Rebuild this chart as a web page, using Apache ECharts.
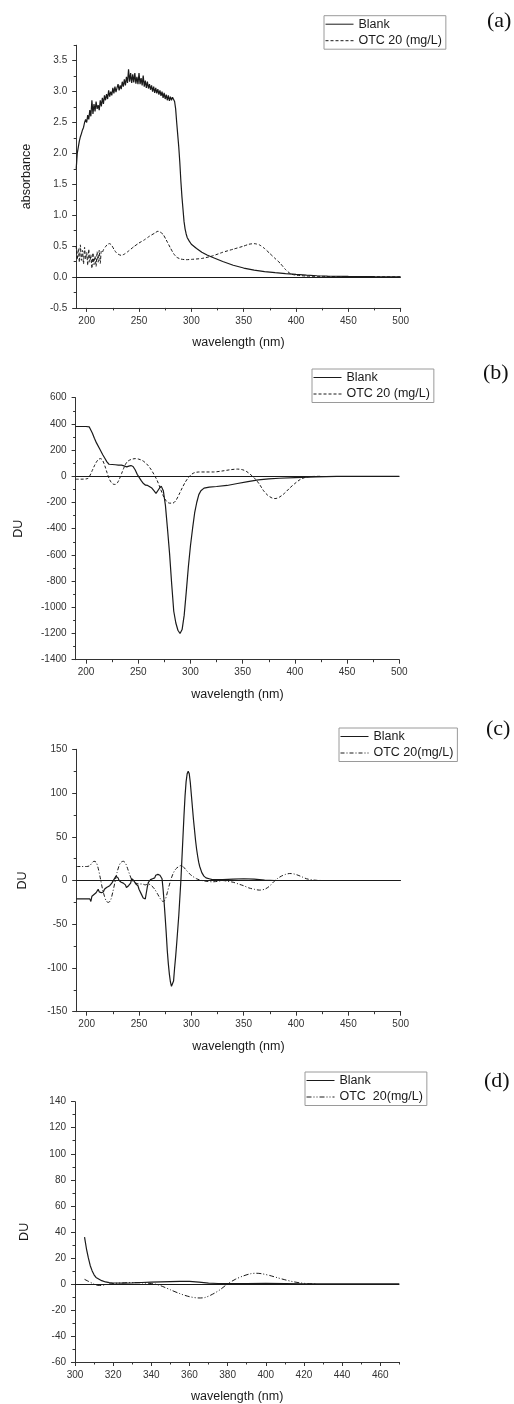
<!DOCTYPE html>
<html>
<head>
<meta charset="utf-8">
<script src="https://cdn.jsdelivr.net/npm/echarts@6/dist/echarts.min.js"></script>
<style>
  html, body { margin: 0; padding: 0; background: #fff; }
  #chart { width: 514px; height: 1404px; }
</style>
</head>
<body>
<div id="chart"></div>
<script>
// ---- Panel (a): absorbance spectra, [wavelength nm, absorbance] ----
const aBlank = [[190,1.75],[191,2.0],[192,2.1],[193,2.2],[194,2.27],[195,2.32],[196,2.38],[197,2.42],[198,2.5],[199,2.55],[200,2.5],[201,2.62],[202,2.55],[203,2.7],[204,2.6],[205,2.86],[206,2.64],[207,2.8],[208,2.68],[209,2.84],[210,2.72],[211,2.78],[212,2.7],[213,2.86],[214,2.76],[215,2.9],[216,2.8],[217,2.94],[218,2.86],[219,2.96],[220,2.88],[221,3.02],[222,2.92],[223,3.0],[224,2.94],[225,3.06],[226,2.97],[227,3.08],[228,2.99],[229,3.06],[230,3.12],[231,3.02],[232,3.1],[233,3.04],[234,3.16],[235,3.08],[236,3.2],[237,3.1],[238,3.24],[239,3.14],[240,3.36],[241,3.16],[242,3.3],[243,3.14],[244,3.28],[245,3.15],[246,3.3],[247,3.13],[248,3.24],[249,3.12],[250,3.3],[251,3.12],[252,3.22],[253,3.1],[254,3.26],[255,3.08],[256,3.18],[257,3.06],[258,3.16],[259,3.05],[260,3.12],[261,3.03],[262,3.1],[263,3.0],[264,3.08],[265,2.98],[266,3.06],[267,2.97],[268,3.04],[269,2.95],[270,3.02],[271,2.93],[272,3.0],[273,2.9],[274,2.98],[275,2.88],[276,2.95],[277,2.86],[278,2.94],[279,2.85],[280,2.92],[281,2.86],[282,2.91],[283,2.88],[284,2.84],[285,2.72],[286,2.5],[287,2.3],[288,2.1],[289,1.85],[290,1.55],[291,1.3],[292,1.1],[293,0.9],[294,0.78],[295,0.7],[296,0.64],[298,0.58],[300,0.53],[305,0.46],[310,0.4],[315,0.355],[320,0.32],[330,0.25],[340,0.19],[350,0.145],[360,0.11],[370,0.088],[380,0.07],[390,0.055],[400,0.042],[410,0.03],[420,0.02],[430,0.015],[450,0.009],[475,0.005],[500,0.003]];
const aOtc = [[190,0.5],[191,0.28],[192,0.46],[193,0.24],[194,0.52],[195,0.27],[196,0.43],[197,0.21],[198,0.48],[199,0.29],[200,0.4],[201,0.19],[202,0.45],[203,0.24],[204,0.36],[205,0.14],[206,0.39],[207,0.2],[208,0.34],[209,0.17],[210,0.41],[211,0.24],[212,0.43],[213,0.22],[214,0.42],[215,0.4],[216,0.44],[218,0.49],[220,0.53],[222,0.54],[224,0.51],[226,0.45],[228,0.4],[230,0.37],[233,0.35],[236,0.37],[240,0.42],[245,0.49],[250,0.55],[255,0.6],[260,0.66],[265,0.71],[268,0.74],[270,0.73],[273,0.69],[276,0.6],[280,0.47],[283,0.38],[286,0.32],[290,0.29],[295,0.28],[300,0.285],[310,0.3],[320,0.34],[330,0.4],[340,0.45],[350,0.5],[355,0.53],[360,0.54],[365,0.52],[370,0.46],[375,0.38],[380,0.3],[385,0.22],[390,0.12],[395,0.05],[400,0.03],[410,0.015],[425,0.01],[450,0.005],[500,0.002]];

// ---- Panel (b): first derivative, [nm, DU] ----
const bBlank = [[190,380],[200,380],[203,378],[206,330],[208,290],[210,255],[213,210],[216,165],[218,138],[220,110],[222,92],[225,90],[228,88],[231,86],[234,85],[237,78],[239,72],[241,78],[243,82],[245,75],[247,50],[249,15],[251,-10],[253,-35],[255,-55],[257,-68],[259,-70],[261,-80],[263,-90],[265,-110],[267,-130],[268,-125],[270,-95],[272,-75],[274,-110],[276,-220],[278,-400],[280,-590],[282,-820],[284,-1030],[286,-1120],[288,-1175],[290,-1200],[292,-1170],[294,-1060],[296,-880],[298,-690],[300,-530],[302,-400],[304,-280],[306,-200],[308,-140],[310,-110],[313,-90],[318,-82],[325,-78],[335,-70],[345,-55],[355,-40],[365,-28],[375,-20],[385,-15],[400,-10],[420,-4],[440,-1],[500,0]];
const bOtc = [[190,-22],[195,-22],[200,-20],[202,-15],[204,10],[206,45],[208,80],[210,110],[212,130],[214,135],[216,120],[218,80],[220,30],[222,-15],[224,-45],[226,-60],[228,-62],[230,-50],[232,-20],[234,20],[236,60],[238,95],[240,115],[243,128],[247,135],[250,132],[254,120],[258,95],[262,55],[265,15],[268,-30],[271,-90],[274,-150],[277,-190],[280,-205],[283,-205],[286,-185],[289,-140],[292,-90],[295,-45],[298,-10],[301,15],[304,28],[308,33],[315,33],[322,33],[330,40],[338,50],[345,55],[350,50],[354,35],[358,10],[362,-20],[366,-60],[370,-110],[374,-145],[378,-165],[381,-170],[385,-160],[390,-130],[395,-90],[400,-55],[405,-25],[410,-8],[415,-2],[425,0]];

// ---- Panel (c): second derivative, [nm, DU] ----
const cBlank = [[190,-21],[195,-21],[200,-21],[203,-21],[204,-24],[205,-18],[206,-20],[207,-16],[208,-17],[209,-14],[210,-16],[211,-10],[212,-13],[213,-11],[214,-14],[215,-12],[216,-13],[217,-10],[218,-11],[219,-8],[220,-9],[222,-6],[224,-3],[226,1],[228,5],[229,6],[230,3],[231,0],[232,1],[233,-2],[234,-1],[235,-3],[236,-2],[237,-5],[238,-8],[239,-10],[240,-6],[241,-8],[242,-3],[243,2],[244,4],[245,0],[246,-2],[247,-4],[248,-3],[249,-6],[250,-10],[251,-12],[252,-15],[253,-17],[254,-20],[255,-22],[256,-21],[257,-14],[258,-7],[259,-2],[260,-1],[261,1],[262,0],[263,2],[264,1],[265,3],[266,6],[267,8],[268,7],[269,8],[270,6],[271,4],[272,2],[273,-10],[274,-25],[275,-42],[276,-60],[277,-80],[278,-95],[279,-107],[280,-116],[281,-121],[282,-123],[283,-115],[284,-100],[285,-87],[286,-72],[287,-56],[288,-40],[289,-20],[290,0],[291,25],[292,50],[293,75],[294,97],[295,113],[296,122],[297,125],[298,122],[299,112],[300,98],[301,84],[302,70],[303,58],[304,46],[305,36],[306,28],[307,21],[308,16],[310,9],[312,5],[314,3],[317,2],[320,1],[330,1],[340,1.5],[350,2],[360,1.5],[370,0.5],[380,0],[500,0]];
const cOtc = [[190,16],[195,16],[200,16],[203,17],[205,20],[207,22],[209,21],[211,14],[213,3],[215,-9],[217,-18],[219,-24],[221,-25],[223,-22],[225,-13],[227,-2],[229,9],[231,17],[233,21],[235,22],[237,20],[239,14],[241,7],[243,1],[245,-2],[247,-3],[250,-4],[253,-4],[256,-5],[259,-4],[262,-6],[265,-10],[268,-16],[271,-22],[273,-24],[275,-22],[277,-14],[279,-5],[281,3],[283,9],[285,13],[288,16],[290,17],[292,16],[295,12],[298,8],[301,5],[305,2],[310,0],[315,-1],[320,-1.5],[325,-1],[330,0],[335,-1],[340,-2],[345,-4],[350,-6],[355,-8.5],[360,-10],[365,-11],[370,-10],[373,-8],[376,-5],[379,-1],[382,2],[386,5],[390,7],[394,8],[398,7.5],[402,6],[406,4],[410,2],[415,0.8],[420,0.2],[425,0]];

// ---- Panel (d): third derivative, [nm, DU] ----
const dBlank = [[305,36],[306,27],[307,20],[308,14],[309,10],[310,7],[311,5],[312,3.8],[314,2.5],[316,1.5],[318,1],[320,0.7],[325,0.6],[330,0.8],[335,1.1],[340,1.4],[345,1.6],[350,1.8],[355,2],[360,1.9],[365,1.3],[370,0.6],[375,0.3],[380,0.2],[390,0.3],[400,0.4],[410,0.2],[420,0],[470,0]];
const dOtc = [[305,3.5],[307,2],[309,0.5],[311,-0.8],[313,-1.2],[315,-1],[317,-0.3],[320,0.3],[325,0.8],[330,1],[335,0.8],[340,0.3],[343,-0.5],[346,-2],[350,-4.5],[355,-7.5],[360,-9.8],[365,-10.8],[368,-10.5],[372,-8],[376,-4.5],[380,0],[384,3.5],[388,6],[392,7.8],[395,8.2],[398,7.8],[402,6.5],[406,4.8],[410,3.2],[414,1.8],[418,0.8],[422,0.2],[426,0]];

// ---- Tick positions ----
const xTicksUV = [200,250,300,350,400,450,500];
const xMinorUV = [225,275,325,375,425,475];
const xTicksD = [300,320,340,360,380,400,420,440,460];
const xMinorD = [310,330,350,370,390,410,430,450,470];
const yTicksA = [-0.5,0,0.5,1,1.5,2,2.5,3,3.5];
const yMinorA = [-0.25,0.25,0.75,1.25,1.75,2.25,2.75,3.25,3.75];
const yTicksB = [-1400,-1200,-1000,-800,-600,-400,-200,0,200,400,600];
const yMinorB = [-1300,-1100,-900,-700,-500,-300,-100,100,300,500];
const yTicksC = [-150,-100,-50,0,50,100,150];
const yMinorC = [-125,-75,-25,25,75,125];
const yTicksD = [-60,-40,-20,0,20,40,60,80,100,120,140];
const yMinorD = [-50,-30,-10,10,30,50,70,90,110,130];

// ---- Legend / series names ----
const nameBlank = 'Blank';
const nameOtcAB = 'OTC 20 (mg/L)';
const nameOtcC = 'OTC 20(mg/L)';
const nameOtcD = 'OTC  20(mg/L)';
const panelTags = ['(a)', '(b)', '(c)', '(d)'];

const SANS = '"Liberation Sans", Arial, Helvetica, sans-serif';
const SERIF = '"Liberation Serif", "Times New Roman", serif';
const INK = '#1a1a1a';
const AXIS = '#333';

const grids = [
  { left: 76.2, top: 45.25, width: 324.5, height: 262.65 },
  { left: 75.6, top: 397.7, width: 323.7, height: 262 },
  { left: 76.2, top: 749.3, width: 324.5, height: 262.4 },
  { left: 75,   top: 1101.7, width: 324.3, height: 262.3 }
];

const panels = [
  { xr: [190, 500], yr: [-0.5, 3.75], xt: xTicksUV, xm: xMinorUV, yt: yTicksA, ym: yMinorA,
    yName: 'absorbance', yGap: 43, fmt: v => v.toFixed(1) },
  { xr: [190, 500], yr: [-1400, 600], xt: xTicksUV, xm: xMinorUV, yt: yTicksB, ym: yMinorB,
    yName: 'DU', yGap: 51, fmt: v => String(v) },
  { xr: [190, 500], yr: [-150, 150], xt: xTicksUV, xm: xMinorUV, yt: yTicksC, ym: yMinorC,
    yName: 'DU', yGap: 47, fmt: v => String(v) },
  { xr: [300, 470], yr: [-60, 140], xt: xTicksD, xm: xMinorD, yt: yTicksD, ym: yMinorD,
    yName: 'DU', yGap: 44, fmt: v => String(v) }
];

const xAxes = [], yAxes = [];
panels.forEach((p, i) => {
  xAxes.push({
    type: 'value', gridIndex: i, position: 'bottom', min: p.xr[0], max: p.xr[1],
    name: 'wavelength (nm)', nameLocation: 'middle', nameGap: 28,
    nameTextStyle: { fontFamily: SANS, fontSize: 12.5, color: INK },
    axisLine: { onZero: false, lineStyle: { color: AXIS, width: 1 } },
    axisTick: { inside: false, length: 4, customValues: p.xt, lineStyle: { color: AXIS } },
    axisLabel: { customValues: p.xt, margin: 8, fontFamily: SANS, fontSize: 10, color: '#333' },
    splitLine: { show: false }
  });
  yAxes.push({
    type: 'value', gridIndex: i, position: 'left', min: p.yr[0], max: p.yr[1],
    name: p.yName, nameLocation: 'middle', nameGap: p.yGap,
    nameTextStyle: { fontFamily: SANS, fontSize: 12.5, color: INK },
    axisLine: { onZero: false, lineStyle: { color: AXIS, width: 1 } },
    axisTick: { inside: false, length: 4, customValues: p.yt, lineStyle: { color: AXIS } },
    axisLabel: { customValues: p.yt, margin: 9, fontFamily: SANS, fontSize: 10, color: '#333', formatter: p.fmt },
    splitLine: { show: false }
  });
});
// minor tick axes overlaid on the main ones
panels.forEach((p, i) => {
  xAxes.push({
    type: 'value', gridIndex: i, position: 'bottom', min: p.xr[0], max: p.xr[1],
    axisLine: { show: false, onZero: false },
    axisTick: { inside: false, length: 2.5, customValues: p.xm, lineStyle: { color: AXIS } },
    axisLabel: { show: false }, splitLine: { show: false }
  });
  yAxes.push({
    type: 'value', gridIndex: i, position: 'left', min: p.yr[0], max: p.yr[1],
    axisLine: { show: false, onZero: false },
    axisTick: { inside: false, length: 2.5, customValues: p.ym, lineStyle: { color: AXIS } },
    axisLabel: { show: false }, splitLine: { show: false }
  });
});

function blankSeries(i, data) {
  return {
    type: 'line', name: nameBlank, xAxisIndex: i, yAxisIndex: i, data: data,
    symbol: 'none', smooth: false, animation: false,
    lineStyle: { color: INK, width: 1.2, type: 'solid' },
    itemStyle: { color: INK },
    markLine: {
      silent: true, symbol: 'none', label: { show: false },
      lineStyle: { color: INK, width: 1, type: 'solid' },
      data: [{ yAxis: 0 }]
    },
    z: 3
  };
}
function otcSeries(i, name, data, dash, smooth) {
  return {
    type: 'line', name: name, xAxisIndex: i, yAxisIndex: i, data: data,
    symbol: 'none', smooth: smooth, animation: false,
    lineStyle: { color: INK, width: 1, type: dash },
    itemStyle: { color: INK },
    z: 2
  };
}

const legendBoxes = [
  { left: 324, top: 15.7, names: [nameBlank, nameOtcAB] },
  { left: 312, top: 369, names: [nameBlank, nameOtcAB] },
  { left: 339, top: 728, names: [nameBlank, nameOtcC] },
  { left: 305, top: 1072, names: [nameBlank, nameOtcD] }
];
const legends = legendBoxes.map(l => ({
  left: l.left, top: l.top, orient: 'vertical', data: l.names,
  itemWidth: 28, itemHeight: 13, itemGap: 3.5, padding: [2, 4, 2, 1],
  borderColor: '#9a9a9a', borderWidth: 1, selectedMode: false,
  itemStyle: { opacity: 0 },
  lineStyle: { width: 1 },
  textStyle: { fontFamily: SANS, fontSize: 12.5, color: INK }
}));

const tagPos = [[487, 22.5], [483, 374], [486, 730], [484, 1082.5]];
const graphics = panelTags.map((t, i) => ({
  type: 'text', left: tagPos[i][0], top: tagPos[i][1] - 12,
  style: { text: t, font: '22px ' + SERIF, fill: '#111' }
}));

const chart = echarts.init(document.getElementById('chart'), null, { renderer: 'canvas', width: 514, height: 1404 });
chart.setOption({
  backgroundColor: '#fff',
  animation: false,
  grid: grids,
  xAxis: xAxes,
  yAxis: yAxes,
  legend: legends,
  graphic: graphics,
  series: [
    blankSeries(0, aBlank), otcSeries(0, nameOtcAB, aOtc, [3, 2], 0.2),
    blankSeries(1, bBlank), otcSeries(1, nameOtcAB, bOtc, [3, 2], 0.3),
    blankSeries(2, cBlank), otcSeries(2, nameOtcC, cOtc, [4, 2, 1, 2], 0.3),
    blankSeries(3, dBlank), otcSeries(3, nameOtcD, dOtc, [5, 2, 1, 2, 1, 2], 0.3)
  ]
});
</script>
</body>
</html>
